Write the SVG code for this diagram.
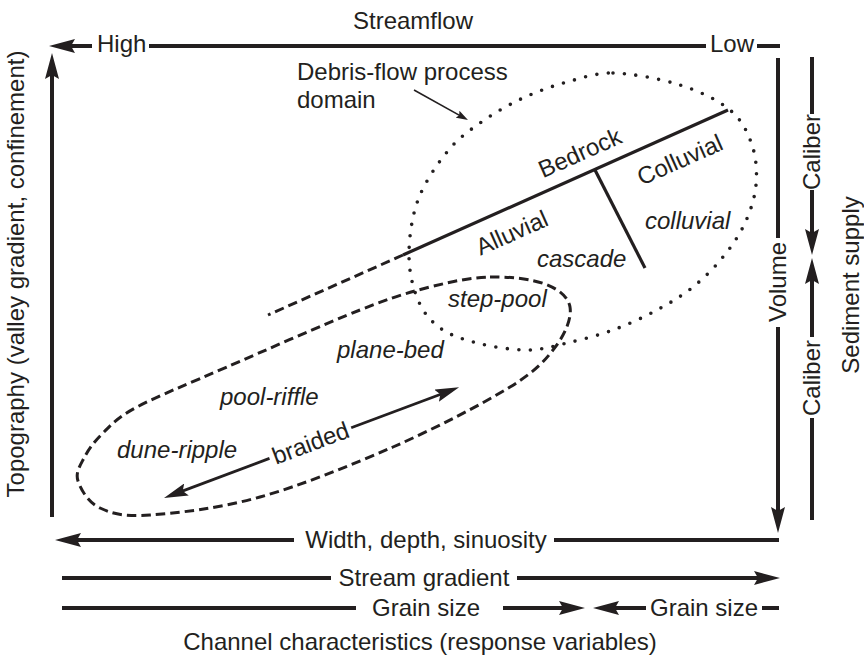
<svg xmlns="http://www.w3.org/2000/svg" width="864" height="656" viewBox="0 0 864 656">
<defs>
<style>
text{font-family:"Liberation Sans",Arial,sans-serif;font-size:24px;fill:#231f20}
.it{font-style:italic}
.mid{text-anchor:middle}
.ax{stroke:#231f20;stroke-width:4;fill:none}
.thin{stroke:#231f20;stroke-width:1.6;fill:none}
.med{stroke:#231f20;stroke-width:2.8;fill:none}
.bd{stroke:#231f20;stroke-width:3.2;fill:none}
.dot{stroke:#231f20;stroke-width:3.6;fill:none;stroke-dasharray:0 11.5;stroke-linecap:round}
.dash{stroke:#231f20;stroke-width:3;fill:none;stroke-dasharray:9.5 5}
</style>
<marker id="ah" viewBox="0 0 26 14" refX="14" refY="7" markerWidth="26" markerHeight="14" markerUnits="userSpaceOnUse" orient="auto"><path d="M0,0 L26,7 L0,14 L4,7 Z" fill="#231f20"/></marker>
<marker id="ahm" viewBox="0 0 24 13" refX="13" refY="6.5" markerWidth="24" markerHeight="13" markerUnits="userSpaceOnUse" orient="auto"><path d="M0,0 L24,6.5 L0,13 L4,6.5 Z" fill="#231f20"/></marker>
<marker id="ahs" viewBox="0 0 12 8" refX="7" refY="4" markerWidth="12" markerHeight="8" markerUnits="userSpaceOnUse" orient="auto"><path d="M0,0 L12,4 L0,8 L2,4 Z" fill="#231f20"/></marker>
</defs>

<g id="connectors">
<line class="ax" x1="92" y1="46" x2="61" y2="46" marker-end="url(#ah)"/>
<line class="ax" x1="149" y1="46" x2="706" y2="46"/>
<line class="ax" x1="757" y1="46" x2="780" y2="46"/>
<line class="ax" x1="52" y1="517" x2="52" y2="65" marker-end="url(#ah)"/>
<line class="ax" x1="294" y1="540" x2="67" y2="540" marker-end="url(#ah)"/>
<line class="ax" x1="554" y1="540" x2="779" y2="540"/>
<line class="ax" x1="62" y1="578" x2="331" y2="578"/>
<line class="ax" x1="517" y1="578" x2="768" y2="578" marker-end="url(#ah)"/>
<line class="ax" x1="62" y1="608" x2="356" y2="608"/>
<line class="ax" x1="503" y1="608" x2="573" y2="608" marker-end="url(#ah)"/>
<line class="ax" x1="646" y1="608" x2="605" y2="608" marker-end="url(#ah)"/>
<line class="ax" x1="762" y1="608" x2="779" y2="608"/>
<line class="ax" x1="778" y1="58" x2="778" y2="238"/>
<line class="ax" x1="778" y1="327" x2="778" y2="521" marker-end="url(#ah)"/>
<line class="ax" x1="812" y1="57" x2="812" y2="114"/>
<line class="ax" x1="812" y1="190" x2="812" y2="243" marker-end="url(#ah)"/>
<line class="ax" x1="812" y1="337" x2="812" y2="270" marker-end="url(#ah)"/>
<line class="ax" x1="812" y1="418" x2="812" y2="520"/>
<line class="thin" x1="414" y1="90" x2="463.6" y2="117.6" marker-end="url(#ahs)"/>
<line class="med" x1="269.5" y1="458.4" x2="174.3" y2="494.1" marker-end="url(#ahm)"/>
<line class="med" x1="351.2" y1="427.8" x2="448.8" y2="391.2" marker-end="url(#ahm)"/>
</g>

<g id="axis-labels">
<text class="mid" x="413" y="29">Streamflow</text>
<text x="97" y="52">High</text>
<text x="710" y="52">Low</text>
<text class="mid" transform="translate(24,274) rotate(-90)">Topography (valley gradient, confinement)</text>
<text class="mid" x="426" y="548">Width, depth, sinuosity</text>
<text class="mid" x="424" y="586">Stream gradient</text>
<text class="mid" x="426" y="616">Grain size</text>
<text x="650" y="616">Grain size</text>
<text class="mid" x="420" y="650">Channel characteristics (response variables)</text>
<text class="mid" transform="translate(786,282) rotate(-90)">Volume</text>
<text class="mid" transform="translate(820,152) rotate(-90)">Caliber</text>
<text class="mid" transform="translate(820,378) rotate(-90)">Caliber</text>
<text class="mid" transform="translate(859,285) rotate(-90)">Sediment supply</text>
</g>

<g id="debris-flow-domain">
<path class="dot" d="M613,73 C631.8,73.5 660.5,78.8 680,85 C699.5,91.2 718,100 730,110 C742,120 747.7,132.5 752,145 C756.3,157.5 757.2,172 756,185 C754.8,198 750.5,211 745,223 C739.5,235 731.7,246.3 723,257 C714.3,267.7 704,278.2 693,287 C682,295.8 670.3,302.8 657,310 C643.7,317.2 628,324.5 613,330 C598,335.5 581.3,339.7 567,343 C552.7,346.3 542,350 527,350 C512,350 491.5,346.7 477,343 C462.5,339.3 449.8,335.2 440,328 C430.2,320.8 423.2,312.2 418,300 C412.8,287.8 409,271.7 409,255 C409,238.3 411.7,217.2 418,200 C424.3,182.8 436.7,164.8 447,152 C457.3,139.2 467.3,132 480,123 C492.7,114 508.5,104.8 523,98 C537.5,91.2 552,86.2 567,82 C582,77.8 598,72.5 613,73 Z"/>
<text x="297" y="80">Debris-flow process</text>
<text x="297" y="108">domain</text>
</g>

<g id="channel-domain">
<path class="dash" d="M490,277 C509.2,276.5 531.7,279 545,284 C558.3,289 568.2,296.7 570,307 C571.8,317.3 566,332.7 556,346 C546,359.3 537.2,370.2 510,387 C482.8,403.8 434.7,428.7 393,447 C351.3,465.3 300.5,485.7 260,497 C219.5,508.3 176.7,513.2 150,515 C123.3,516.8 112,513.7 100,508 C88,502.3 80.7,489.3 78,481 C75.3,472.7 79.8,466 84,458 C88.2,450 94.2,441.5 103,433 C111.8,424.5 116.3,418 137,407 C157.7,396 189.8,383.2 227,367 C264.2,350.8 326.2,323.3 360,310 C393.8,296.7 408.3,292.5 430,287 C451.7,281.5 470.8,277.5 490,277 Z"/>
</g>

<g id="bedrock-boundary">
<line class="bd" x1="403" y1="255" x2="728" y2="110"/>
<line class="dash" x1="403" y1="255" x2="268" y2="315"/>
<line class="bd" x1="595" y1="170" x2="645" y2="268"/>
</g>

<g id="bedrock"><text class="mid" transform="translate(580,153) rotate(-24)" y="8">Bedrock</text></g>
<g id="colluvial"><text class="mid" transform="translate(680,160) rotate(-24)" y="8">Colluvial</text></g>
<g id="alluvial"><text class="mid" transform="translate(512,233) rotate(-24)" y="8">Alluvial</text></g>
<g id="colluvial-type"><text class="it" x="645" y="229">colluvial</text></g>
<g id="cascade"><text class="it" x="537" y="267">cascade</text></g>
<g id="step-pool"><text class="it" x="448" y="307">step-pool</text></g>
<g id="plane-bed"><text class="it" x="337" y="358">plane-bed</text></g>
<g id="pool-riffle"><text class="it" x="220" y="405">pool-riffle</text></g>
<g id="dune-ripple"><text class="it" x="117" y="458">dune-ripple</text></g>
<g id="braided"><text class="mid" transform="translate(310.7,443.3) rotate(-20.5)" y="8">braided</text></g>
</svg>
